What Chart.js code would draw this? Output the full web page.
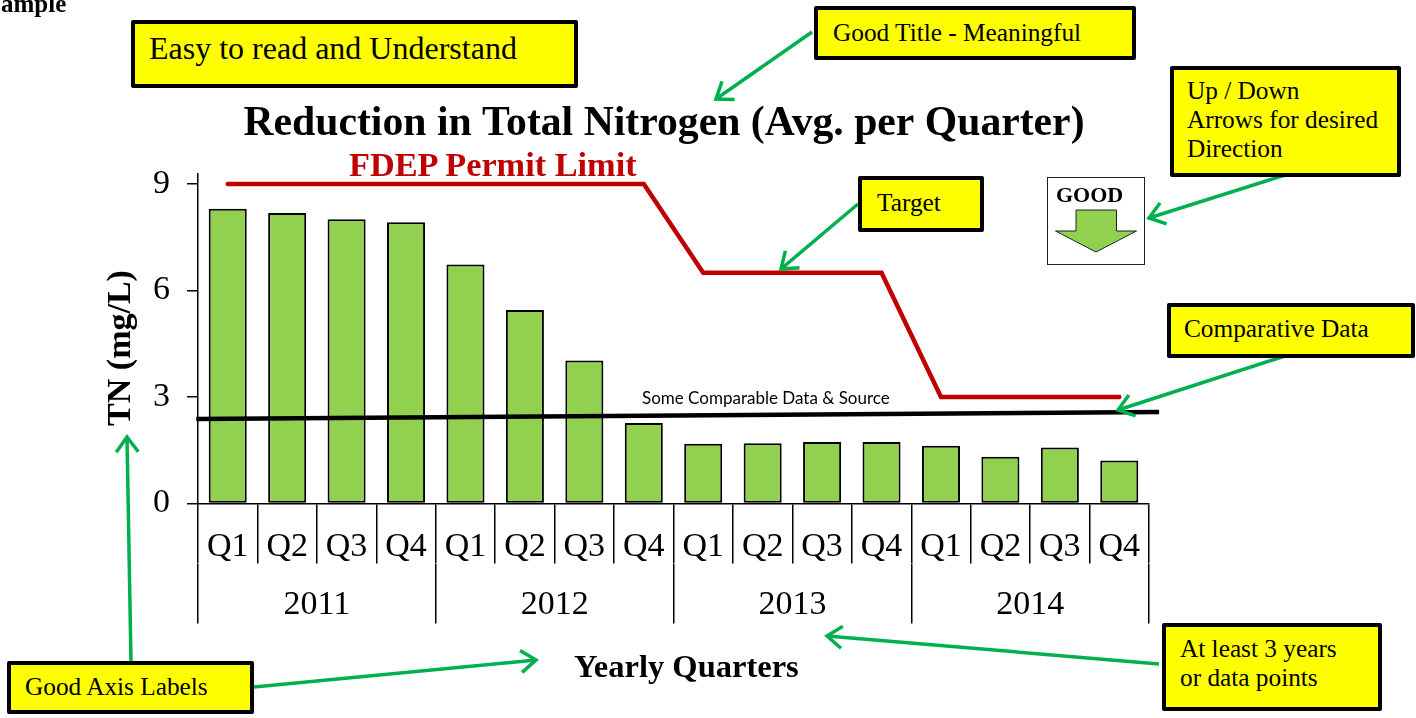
<!DOCTYPE html>
<html>
<head>
<meta charset="utf-8">
<title>Reduction in Total Nitrogen</title>
<script src="https://cdn.jsdelivr.net/npm/chart.js@4"></script>
<style>
  html, body { margin: 0; padding: 0; background: #fff; }
  #page { position: relative; width: 1416px; height: 718px; overflow: hidden; font-family: "Liberation Serif", serif; color: #000; }
  #chart { position: absolute; left: 0; top: 0; }
  #arrows { position: absolute; left: 0; top: 0; }
  .note { position: absolute; box-sizing: border-box; background: #ff0; border: 4.5px solid #000; border-radius: 2px; font-size: 25.3px; line-height: 29px; white-space: nowrap; }
  .free { position: absolute; white-space: nowrap; line-height: 1; }
  .bold { font-weight: bold; }
</style>
</head>
<body>
<div id="page">
  <canvas id="chart" width="1328" height="718"></canvas>

  <svg id="arrows" width="1416" height="718" viewBox="0 0 1416 718">
    <defs>
      <marker id="head" markerUnits="userSpaceOnUse" markerWidth="40" markerHeight="40" refX="20" refY="20" orient="auto">
        <path d="M5,9 L20,20 L5,31" fill="none" stroke="#00b050" stroke-width="3.5"/>
      </marker>
    </defs>
    <g stroke="#00b050" stroke-width="3.5" fill="none">
      <line x1="812" y1="32" x2="716" y2="99" marker-end="url(#head)"/>
      <line x1="858" y1="204" x2="781" y2="269" marker-end="url(#head)"/>
      <line x1="1285" y1="175" x2="1149" y2="218" marker-end="url(#head)"/>
      <line x1="1285" y1="356" x2="1118" y2="410" marker-end="url(#head)"/>
      <line x1="131" y1="662" x2="127" y2="437" marker-end="url(#head)"/>
      <line x1="253" y1="687" x2="536" y2="660" marker-end="url(#head)"/>
      <line x1="1159" y1="664" x2="827" y2="636" marker-end="url(#head)"/>
    </g>
    <rect x="1047.5" y="177.5" width="97" height="87" fill="#fff" stroke="#222" stroke-width="1"/>
    <polygon points="1076,210 1116.5,210 1116.5,231 1136.5,231 1096,252 1055.5,231 1076,231" fill="#92d050" stroke="#222" stroke-width="1"/>
  </svg>

  <div class="free bold" style="left:1px;top:-9px;font-size:25px">ample</div>
  <div class="free bold" style="left:1056px;top:184px;font-size:22px">GOOD</div>

  <div class="free bold" style="left:349px;top:147px;font-size:34.3px;color:#c00000">FDEP Permit Limit</div>
  <div class="free" style="left:642px;top:389px;font-size:17px;font-family:Lato,sans-serif">Some Comparable Data &amp; Source</div>
  <div class="free bold" style="left:574px;top:650px;font-size:32.5px">Yearly Quarters</div>
  <div class="free bold" style="left:119px;top:348px;font-size:34px;transform:translate(-50%,-50%) rotate(-90deg)">TN (mg/L)</div>

  <div class="note" style="left:131px;top:20px;width:447px;height:68px;font-size:32px;line-height:36px;padding:6px 0 0 14px">Easy to read and Understand</div>
  <div class="note" style="left:814px;top:6px;width:322px;height:54px;padding:8px 0 0 15px">Good Title - Meaningful</div>
  <div class="note" style="left:1170px;top:66px;width:231px;height:111px;padding:6px 0 0 13px">Up / Down<br>Arrows for desired<br>Direction</div>
  <div class="note" style="left:858px;top:176px;width:126px;height:56px;padding:8px 0 0 15px">Target</div>
  <div class="note" style="left:1167px;top:303px;width:248px;height:55px;padding:7px 0 0 13px">Comparative Data</div>
  <div class="note" style="left:1162px;top:623px;width:220px;height:88px;padding:7px 0 0 14px">At least 3 years<br>or data points</div>
  <div class="note" style="left:7px;top:661px;width:247px;height:53px;padding:7px 0 0 14px">Good Axis Labels</div>
</div>

<script>
// Values (mg/L)
const quarters = ['Q1','Q2','Q3','Q4','Q1','Q2','Q3','Q4','Q1','Q2','Q3','Q4','Q1','Q2','Q3','Q4'];
const years = ['2011','2012','2013','2014'];
const tnValues = [8.30, 8.18, 8.01, 7.92, 6.73, 5.45, 4.03, 2.27, 1.68, 1.70, 1.73, 1.73, 1.63, 1.32, 1.58, 1.21];
const permitLimit = [9, 9, 9, 9, 9, 9, 9, 9, 6.5, 6.5, 6.5, 6.5, 3, 3, 3, 3];
// the comparison line runs a little past both ends of the axis
const comparativeX = [-0.53, 15.67];
const comparativeY = [2.38, 2.58];
const yTicks = [0, 3, 6, 9];
const yMax = 9.28;

const SERIF = '"Liberation Serif", serif';
const tickFont = { family: SERIF, size: 34 };

new Chart(document.getElementById('chart'), {
  type: 'bar',
  data: {
    labels: quarters,
    datasets: [
      {
        label: 'TN',
        data: tnValues,
        backgroundColor: '#92d050',
        borderColor: '#000',
        borderWidth: 2,
        borderSkipped: false,
        barPercentage: 0.64,
        categoryPercentage: 1,
        grouped: false,
        order: 3,
      },
      {
        type: 'line',
        label: 'FDEP Permit Limit',
        data: permitLimit,
        borderColor: '#c00000',
        borderWidth: 4.5,
        borderCapStyle: 'round',
        borderJoinStyle: 'miter',
        pointRadius: 0,
        tension: 0,
        order: 1,
      },
      {
        type: 'line',
        label: 'Comparable Data',
        xAxisID: 'x2',
        data: comparativeX.map((x, i) => ({ x, y: comparativeY[i] })),
        borderColor: '#000',
        borderWidth: 4.5,
        pointRadius: 0,
        tension: 0,
        clip: false,
        order: 2,
      },
    ],
  },
  options: {
    responsive: false,
    animation: false,
    layout: { padding: { left: 0, top: 0, right: 0, bottom: 94.5 } },
    plugins: {
      legend: { display: false },
      tooltip: { enabled: false },
      title: {
        display: true,
        text: 'Reduction in Total Nitrogen (Avg. per Quarter)',
        color: '#000',
        font: { family: SERIF, size: 41.7, weight: 'bold', lineHeight: 1.2 },
        padding: { top: 99, bottom: 25 },
      },
    },
    scales: {
      x: {
        grid: { drawOnChartArea: false, color: '#000', lineWidth: 1.5, tickLength: 60, offset: true },
        border: { color: '#000', width: 1.5 },
        ticks: { color: '#000', font: tickFont, padding: -36.5, autoSkip: false, maxRotation: 0 },
        afterFit: (s) => { s.height = 60; },
      },
      xYear: {
        type: 'category',
        position: 'bottom',
        labels: years,
        offset: true,
        grid: { drawOnChartArea: false, color: '#000', lineWidth: 1.5, tickLength: 60, offset: true },
        border: { display: false },
        ticks: { color: '#000', font: tickFont, padding: -38.5, autoSkip: false, maxRotation: 0 },
        afterFit: (s) => { s.height = 60; },
      },
      x2: { type: 'linear', display: false, offset: false, min: -0.5, max: 15.5 },
      y: {
        min: 0,
        max: yMax,
        afterBuildTicks: (s) => { s.ticks = yTicks.map((value) => ({ value })); },
        grid: { drawOnChartArea: false, color: '#000', lineWidth: 1.5, tickLength: 11 },
        border: { color: '#000', width: 1.5 },
        ticks: { color: '#000', font: tickFont, padding: 17 },
        afterFit: (s) => { s.width = 198; },
      },
      // empty axis: reserves the space right of the plot so the title stays centred over the whole figure
      yRight: {
        position: 'right',
        grid: { display: false },
        border: { display: false },
        ticks: { display: false },
        afterFit: (s) => { s.width = 179; },
      },
    },
  },
});
</script>
</body>
</html>
